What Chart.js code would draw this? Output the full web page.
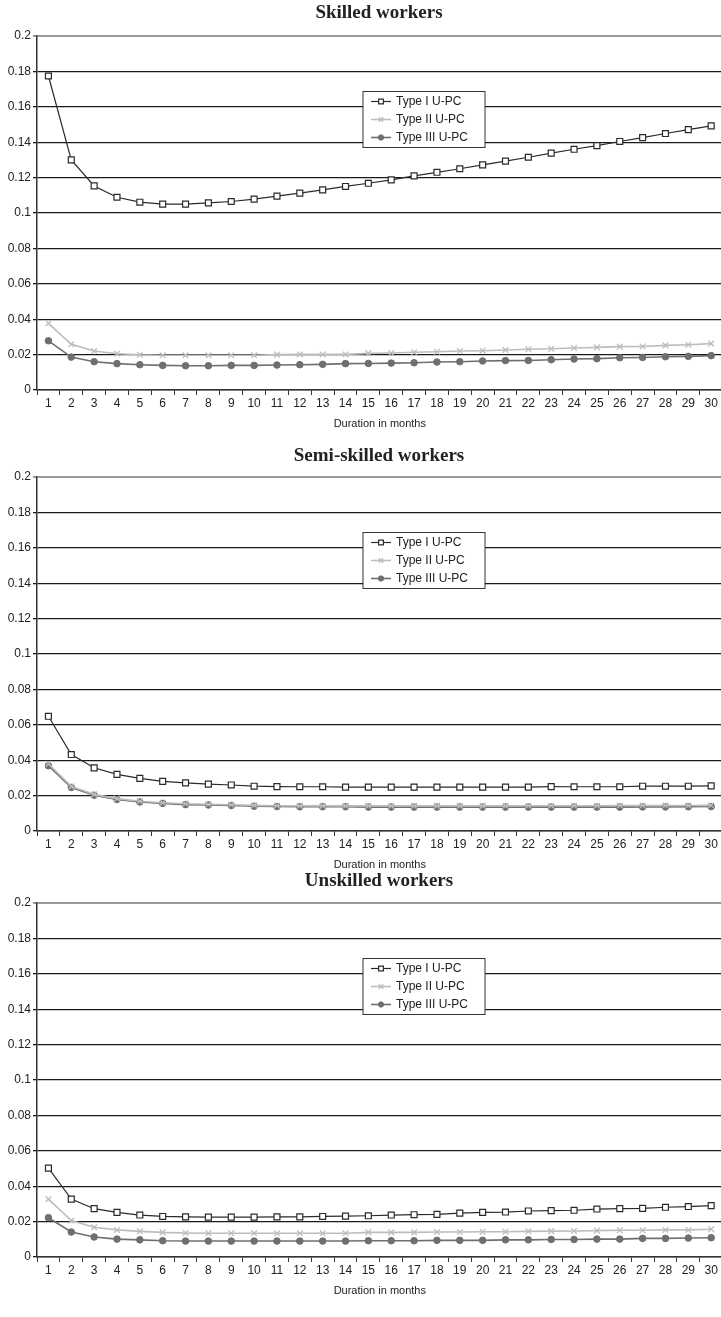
<!DOCTYPE html>
<html><head><meta charset="utf-8">
<script src="https://cdn.jsdelivr.net/npm/chart.js@4.4.1/dist/chart.umd.min.js"></script>
<style>
html,body{margin:0;padding:0;background:#fff;overflow:hidden;width:721px;height:1317px;position:relative}
.blk{position:absolute;left:0;width:728px;height:441px}
</style></head><body>
<div class="blk" style="top:0px"><canvas id="c1"></canvas></div>
<div class="blk" style="top:441px"><canvas id="c2"></canvas></div>
<div class="blk" style="top:867px"><canvas id="c3"></canvas></div>
<script>
const months = ['1','2','3','4','5','6','7','8','9','10','11','12','13','14','15','16','17','18','19','20','21','22','23','24','25','26','27','28','29','30'];
const seriesNames = ['Type I U-PC','Type II U-PC','Type III U-PC'];
const chartTitles = ['Skilled workers','Semi-skilled workers','Unskilled workers'];
const xAxisTitle = 'Duration in months';

const skilledI   = [0.1774,0.130,0.1153,0.1089,0.1061,0.1050,0.1050,0.1057,0.1065,0.1078,0.1095,0.1112,0.1131,0.1150,0.1168,0.1187,0.1210,0.1230,0.1250,0.1272,0.1293,0.1315,0.1338,0.1360,0.1381,0.1404,0.1426,0.1449,0.1471,0.1492];
const skilledII  = [0.0376,0.0258,0.0220,0.0205,0.0199,0.0196,0.0196,0.0196,0.0196,0.0196,0.0200,0.0201,0.0201,0.0201,0.0207,0.0209,0.0213,0.0216,0.0220,0.0222,0.0226,0.0230,0.0233,0.0237,0.0241,0.0245,0.0246,0.0252,0.0256,0.0262];
const skilledIII = [0.0278,0.0186,0.0160,0.0149,0.0143,0.0139,0.0137,0.0137,0.0139,0.0139,0.0141,0.0143,0.0145,0.0149,0.0150,0.0152,0.0154,0.0158,0.0160,0.0164,0.0166,0.0167,0.0171,0.0175,0.0177,0.0182,0.0184,0.0188,0.0190,0.0194];

const semiI   = [0.0648,0.0432,0.0357,0.0320,0.0297,0.0280,0.0272,0.0265,0.0260,0.0253,0.0251,0.0250,0.0250,0.0248,0.0248,0.0248,0.0248,0.0248,0.0248,0.0248,0.0248,0.0248,0.0251,0.0250,0.0250,0.0250,0.0253,0.0253,0.0253,0.0255];
const semiII  = [0.0380,0.0252,0.0207,0.0183,0.0168,0.0160,0.0154,0.0151,0.0148,0.0145,0.0143,0.0142,0.0142,0.0142,0.0142,0.0142,0.0142,0.0142,0.0142,0.0142,0.0142,0.0143,0.0143,0.0143,0.0143,0.0144,0.0144,0.0144,0.0144,0.0145];
const semiIII = [0.0369,0.0246,0.0202,0.0178,0.0164,0.0156,0.0149,0.0147,0.0144,0.0140,0.0138,0.0137,0.0137,0.0137,0.0135,0.0135,0.0135,0.0135,0.0135,0.0135,0.0135,0.0135,0.0135,0.0135,0.0135,0.0135,0.0136,0.0136,0.0137,0.0138];

const unskI   = [0.0502,0.0327,0.0273,0.0252,0.0237,0.0229,0.0227,0.0225,0.0225,0.0225,0.0227,0.0227,0.0229,0.0231,0.0233,0.0237,0.0239,0.0241,0.0248,0.0252,0.0254,0.0260,0.0262,0.0264,0.0271,0.0273,0.0275,0.0281,0.0285,0.0290];
const unskII  = [0.0327,0.0206,0.0168,0.0153,0.0145,0.0139,0.0136,0.0134,0.0134,0.0134,0.0134,0.0134,0.0134,0.0134,0.0139,0.0139,0.0139,0.0141,0.0141,0.0143,0.0143,0.0145,0.0146,0.0147,0.0149,0.0151,0.0151,0.0153,0.0153,0.0157];
const unskIII = [0.0222,0.0141,0.0113,0.0101,0.0097,0.0092,0.0090,0.0090,0.0090,0.0090,0.0090,0.0090,0.0090,0.0090,0.0092,0.0092,0.0092,0.0094,0.0094,0.0094,0.0097,0.0097,0.0099,0.0099,0.0101,0.0101,0.0105,0.0105,0.0107,0.0109];

const yMin = 0, yMax = 0.2, yStep = 0.02;

const styles = [
  {borderColor:'#2a2a2a', borderWidth:1.2, pointStyle:'rect', pointRadius:4.2, pointBackgroundColor:'#ffffff', pointBorderColor:'#2a2a2a', pointBorderWidth:1.2},
  {borderColor:'#bdbdbd', borderWidth:1.6, pointStyle:'crossRot', pointRadius:4, pointBackgroundColor:'#bdbdbd', pointBorderColor:'#bdbdbd', pointBorderWidth:1.3},
  {borderColor:'#6f6f6f', borderWidth:1.6, pointStyle:'circle', pointRadius:3.3, pointBackgroundColor:'#6f6f6f', pointBorderColor:'#6f6f6f', pointBorderWidth:1}
];

const SANS = '"Liberation Sans", Arial, Helvetica, sans-serif';
const SERIF = '"Liberation Serif", "Times New Roman", serif';

const titlePlugin = {
  id:'ctitle',
  afterDraw(chart, args, opts){
    const ctx = chart.ctx, a = chart.chartArea;
    ctx.save();
    ctx.font = 'bold 19px ' + SERIF;
    ctx.fillStyle = '#222';
    ctx.textAlign = 'center';
    ctx.textBaseline = 'middle';
    ctx.fillText(opts.text, (a.left + 721) / 2, opts.y);
    ctx.restore();
  }
};

const legendPlugin = {
  id:'boxlegend',
  afterDraw(chart){
    const ctx = chart.ctx, a = chart.chartArea;
    const h = a.bottom - a.top;
    const x0 = 363, y0 = Math.round(a.top + 0.156 * h) + 0.5, w = 122, bh = 56;
    ctx.save();
    ctx.fillStyle = '#fff';
    ctx.fillRect(x0, y0, w, bh);
    ctx.strokeStyle = '#333';
    ctx.lineWidth = 1;
    ctx.strokeRect(x0, y0, w, bh);
    chart.data.datasets.forEach((ds, i) => {
      const cy = y0 + 10 + i * 18;
      ctx.strokeStyle = ds.borderColor;
      ctx.lineWidth = ds.borderWidth;
      ctx.beginPath(); ctx.moveTo(x0 + 8, cy); ctx.lineTo(x0 + 28, cy); ctx.stroke();
      ctx.fillStyle = ds.pointBackgroundColor;
      ctx.strokeStyle = ds.pointBorderColor;
      ctx.lineWidth = ds.pointBorderWidth;
      Chart.helpers.drawPoint(ctx, {pointStyle: ds.pointStyle, radius: ds.pointRadius * 0.8, rotation: 0, borderWidth: ds.pointBorderWidth}, x0 + 18, cy);
      ctx.fillStyle = '#222';
      ctx.font = '12px ' + SANS;
      ctx.textAlign = 'left';
      ctx.textBaseline = 'middle';
      ctx.fillText(ds.label, x0 + 33, cy + 0.5);
    });
    ctx.restore();
  }
};

function makeChart(id, title, titleY, s1, s2, s3){
  const vals = [s1, s2, s3];
  new Chart(document.getElementById(id), {
    type:'line',
    data:{
      labels: months,
      datasets: vals.map((v, i) => Object.assign({label: seriesNames[i], data: v, fill:false, tension:0}, styles[i]))
    },
    options:{
      responsive:true, maintainAspectRatio:false, animation:false,
      layout:{padding:{top:36, right:0, left:0, bottom:10}},
      plugins:{legend:{display:false}, tooltip:{enabled:false}, ctitle:{text:title, y:titleY}},
      scales:{
        x:{
          type:'category', offset:true,
          grid:{offset:true, drawOnChartArea:false, drawTicks:true, tickLength:5, color:'#333', lineWidth:1},
          border:{display:true, color:'#333', width:1.5},
          ticks:{color:'#222', font:{family:SANS, size:12}, padding:1, maxRotation:0, autoSkip:false},
          title:{display:true, text:xAxisTitle, color:'#222', font:{family:SANS, size:11}, padding:{top:3, bottom:0}},
          afterFit(scale){ scale.height = 41; }
        },
        y:{
          min:yMin, max:yMax,
          grid:{color:(c)=> (c.tick && Math.abs(c.tick.value - yMax) < 1e-9) ? '#9a9a9a' : '#1a1a1a',
                lineWidth:(c)=> (c.tick && Math.abs(c.tick.value - yMax) < 1e-9) ? 2 : 1.3,
                drawTicks:true, tickLength:4},
          border:{display:true, color:'#333', width:1.5},
          ticks:{stepSize:yStep, color:'#222', font:{family:SANS, size:12}, padding:2,
                 callback:(v)=> String(+Number(v).toFixed(2))},
          afterFit(scale){ scale.width = 37; }
        }
      }
    },
    plugins:[titlePlugin, legendPlugin]
  });
}

makeChart('c1', chartTitles[0], 13, skilledI, skilledII, skilledIII);
makeChart('c2', chartTitles[1], 15, semiI, semiII, semiIII);
makeChart('c3', chartTitles[2], 14, unskI, unskII, unskIII);
</script>
</body></html>
